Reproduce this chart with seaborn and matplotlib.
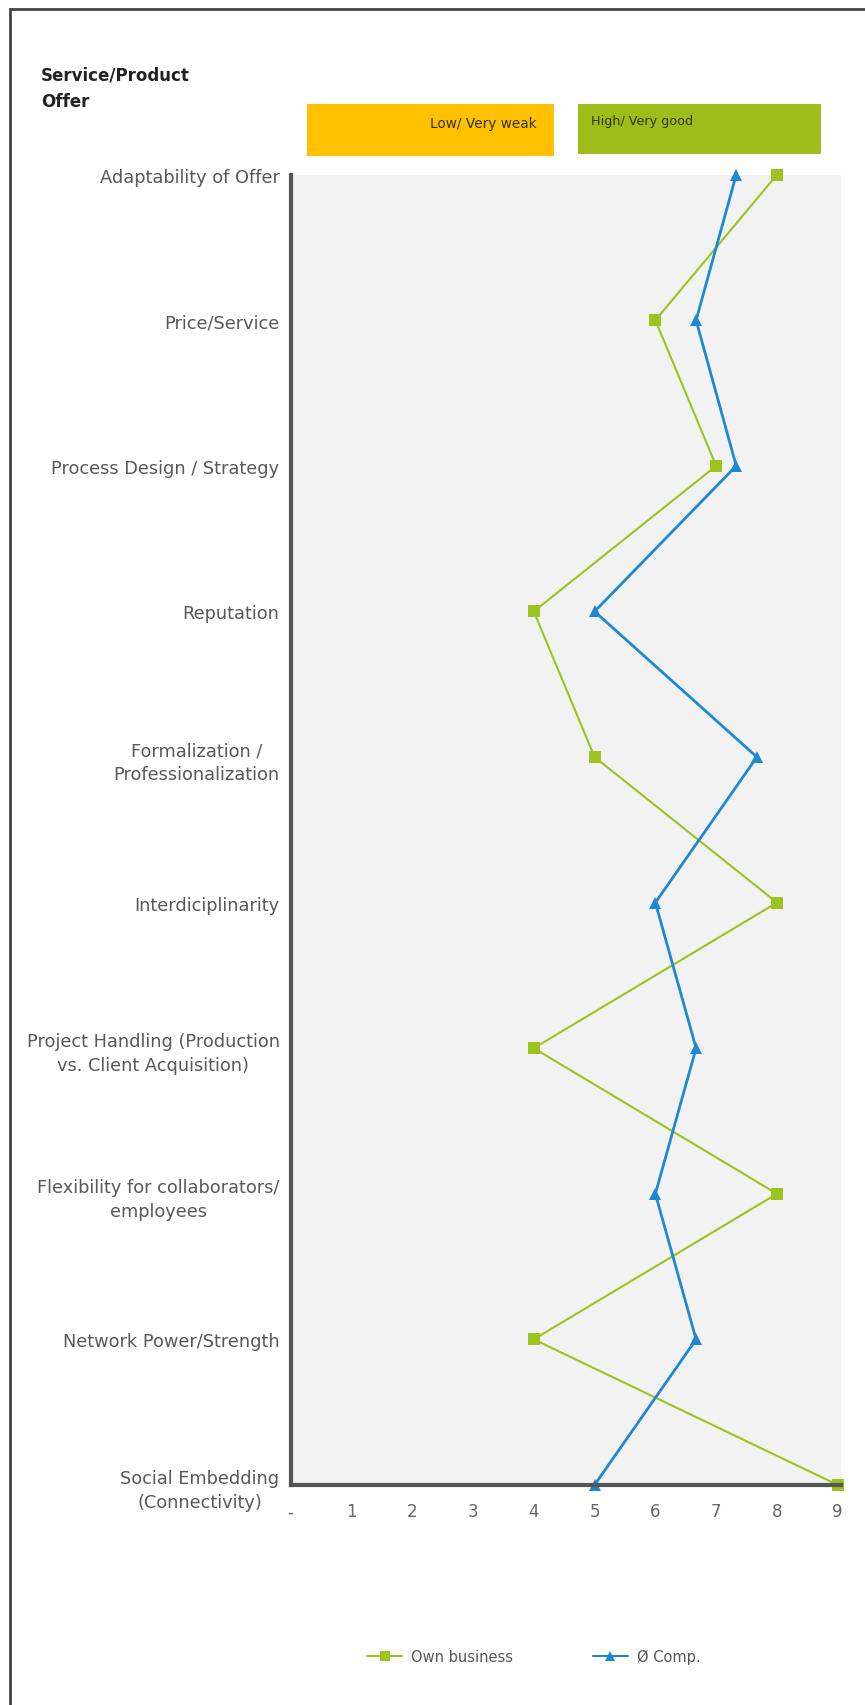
import pandas as pd
import seaborn as sns
import matplotlib.pyplot as plt
from matplotlib.patches import Rectangle

# Values (scale 0-9)
categories = [
    'Adaptability of Offer',
    'Price/Service',
    'Process Design / Strategy',
    'Reputation',
    'Formalization /\nProfessionalization',
    'Interdiciplinarity',
    'Project Handling (Production\nvs. Client Acquisition)',
    'Flexibility for collaborators/\nemployees',
    'Network Power/Strength',
    'Social Embedding\n(Connectivity)',
]
own_business = [8, 6, 7, 4, 5, 8, 4, 8, 4, 9]
comp_avg = [7.33, 6.67, 7.33, 5, 7.67, 6, 6.67, 6, 6.67, 5]
x_ticks = [0, 1, 2, 3, 4, 5, 6, 7, 8, 9]
x_tick_labels = ['-', '1', '2', '3', '4', '5', '6', '7', '8', '9']

series_names = ['Own business', 'Ø Comp.']
green = '#9CC31E'
blue = '#1E88D2'

# Long-format table for seaborn
rows = []
for i, cat in enumerate(categories):
    rows.append({'pos': i, 'score': own_business[i], 'series': series_names[0]})
for i, cat in enumerate(categories):
    rows.append({'pos': i, 'score': comp_avg[i], 'series': series_names[1]})
df = pd.DataFrame(rows)

sns.set_style('white')
fig = plt.figure(figsize=(8.65, 17.06), dpi=100)
ax = fig.add_axes([0.336, 0.129, 0.636, 0.768])
ax.set_facecolor('#F2F2F2')

sns.lineplot(
    data=df, x='score', y='pos', hue='series', style='series',
    palette={series_names[0]: green, series_names[1]: blue},
    markers={series_names[0]: 's', series_names[1]: '^'},
    dashes=False, sort=False, estimator=None, ax=ax,
    markersize=8, markeredgewidth=0,
)
for line, lw in zip(ax.lines, [1.5, 2.0]):
    line.set_linewidth(lw)
    line.set_clip_on(False)

ax.set_xlim(0, 9.05)
ax.set_ylim(len(categories) - 1, 0)
ax.set_yticks(range(len(categories)))
ax.set_yticklabels(categories, fontsize=12.8, color='#585858',
                   multialignment='center', linespacing=1.45)
ax.set_xticks(x_ticks)
ax.set_xticklabels(x_tick_labels, fontsize=12, color='#666666')
ax.set_xlabel('')
ax.set_ylabel('')

for side in ['top', 'right']:
    ax.spines[side].set_visible(False)
for side in ['left', 'bottom']:
    ax.spines[side].set_color('#555555')
    ax.spines[side].set_linewidth(3)
ax.tick_params(axis='y', direction='out', length=5, width=1.5, color='#333333', pad=3)
ax.tick_params(axis='x', direction='inout', length=7, width=1.5, color='#333333', pad=9)

# Legend at the bottom
handles, labels = ax.get_legend_handles_labels()
ax.get_legend().remove()
for h in handles:
    h.set_markeredgewidth(0)
    h.set_markersize(7)
fig.legend(handles, labels, loc='center', bbox_to_anchor=(0.617, 1 - 1657 / 1706),
           ncol=2, frameon=False, fontsize=10.5, labelcolor='#555555',
           handlelength=2.4, handletextpad=0.6, columnspacing=5.5)

# Title
fig.text(0.047, 1 - 66 / 1706, 'Service/Product\nOffer', fontsize=12,
         fontweight='bold', color='#222222', va='top', ha='left', linespacing=1.65)

# Low / High banner boxes
W, H = 865, 1706
fig.add_artist(Rectangle((307 / W, 1 - 157 / H), 247 / W, 52 / H,
                         transform=fig.transFigure, color='#FFC000', lw=0))
fig.add_artist(Rectangle((578 / W, 1 - 155 / H), 243 / W, 50 / H,
                         transform=fig.transFigure, color='#9DBE1A', lw=0))
fig.text(537 / W, 1 - 124 / H, 'Low/ Very weak', fontsize=9.8, color='#333300',
         ha='right', va='center')
fig.text(591 / W, 1 - 122 / H, 'High/ Very good', fontsize=9.2, color='#333300',
         ha='left', va='center')

# Outer frame (left and top edges)
fig.add_artist(Rectangle((10 / W, -0.05), 1.2, 1 - 10 / H + 0.05,
                         transform=fig.transFigure, fill=False,
                         edgecolor='#444444', lw=2))

plt.savefig('out.png', dpi=100)
